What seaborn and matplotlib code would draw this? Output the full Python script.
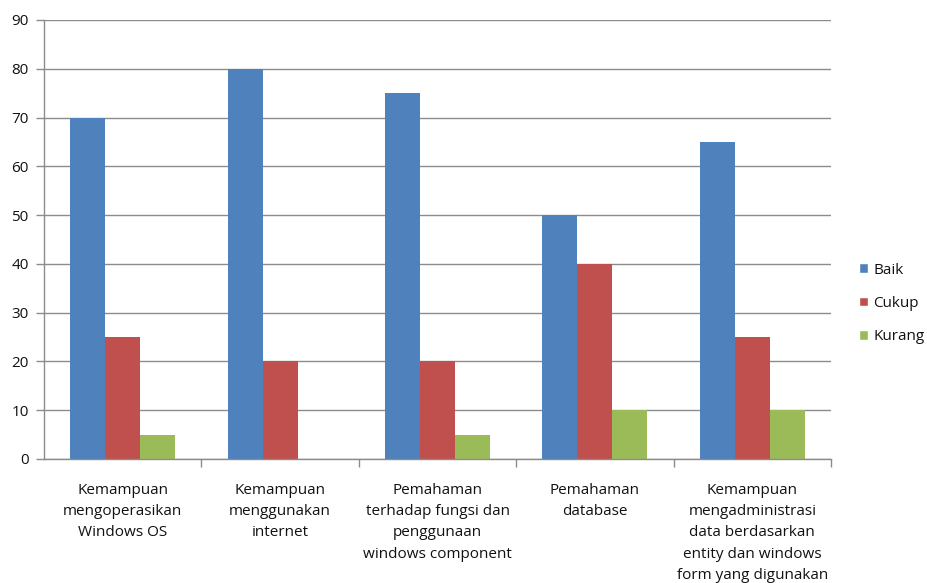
import matplotlib
matplotlib.use("Agg")
import matplotlib.pyplot as plt
import seaborn as sns
import pandas as pd
from matplotlib.ticker import FixedLocator
from matplotlib.patches import Patch

categories = [
    "Kemampuan\nmengoperasikan\nWindows OS",
    "Kemampuan\nmenggunakan\ninternet",
    "Pemahaman\nterhadap fungsi dan\npenggunaan\nwindows component",
    "Pemahaman\ndatabase",
    "Kemampuan\nmengadministrasi\ndata berdasarkan\nentity dan windows\nform yang digunakan",
]
series_names = ["Baik", "Cukup", "Kurang"]
baik = [70, 80, 75, 50, 65]
cukup = [25, 20, 20, 40, 25]
kurang = [5, 0, 5, 10, 10]
colors = ["#4F81BD", "#C0504D", "#9BBB59"]

rows = []
for name, vals in zip(series_names, [baik, cukup, kurang]):
    for c, v in zip(categories, vals):
        rows.append({"cat": c, "series": name, "value": v})
df = pd.DataFrame(rows)

sns.set_theme(style="white")
plt.rcParams['font.family'] = ['Open Sans', 'DejaVu Sans']
plt.rcParams['text.color'] = '#111111'
plt.rcParams['xtick.color'] = '#111111'
plt.rcParams['ytick.color'] = '#111111'

fig = plt.figure(figsize=(9.27, 5.83), dpi=100)
ax = fig.add_axes([44/927, 1-459/583, 787/927, 439/583])

sns.barplot(data=df, x="cat", y="value", hue="series", palette=colors,
            width=0.667, ax=ax, legend=False, saturation=1, errorbar=None,
            linewidth=0)

ax.set_xlim(-0.5, 4.5)
ax.set_ylim(0, 90)
ax.set_yticks(range(0, 91, 10))
ax.yaxis.grid(True, color="#8C8C8C", linewidth=1)
ax.set_axisbelow(True)
ax.set_xlabel("")
ax.set_ylabel("")

for s in ["top", "right"]:
    ax.spines[s].set_visible(False)
for s in ["left", "bottom"]:
    ax.spines[s].set_color("#8C8C8C")
    ax.spines[s].set_linewidth(1)

ax.tick_params(axis="y", which="major", length=6, color="#8C8C8C", width=1,
               labelsize=11, pad=5, left=True, labelcolor='#111111')
ax.tick_params(axis="x", which="major", length=0, labelsize=11, pad=17,
               labelcolor='#111111')
ax.xaxis.set_minor_locator(FixedLocator([0.5, 1.5, 2.5, 3.5, 4.5]))
ax.tick_params(axis="x", which="minor", length=6, color="#8C8C8C", width=1, bottom=True)
for lab in ax.get_xticklabels():
    lab.set_linespacing(1.58)

handles = [Patch(facecolor=c, label=n) for c, n in zip(colors, series_names)]
fig.legend(handles=handles, loc="center left", bbox_to_anchor=(859/927, 1-303.5/583),
           frameon=False, fontsize=11, handlelength=0.6, handleheight=0.6,
           handletextpad=0.35, labelspacing=1.2, borderpad=0, borderaxespad=0)

fig.savefig("out.png", dpi=100)
